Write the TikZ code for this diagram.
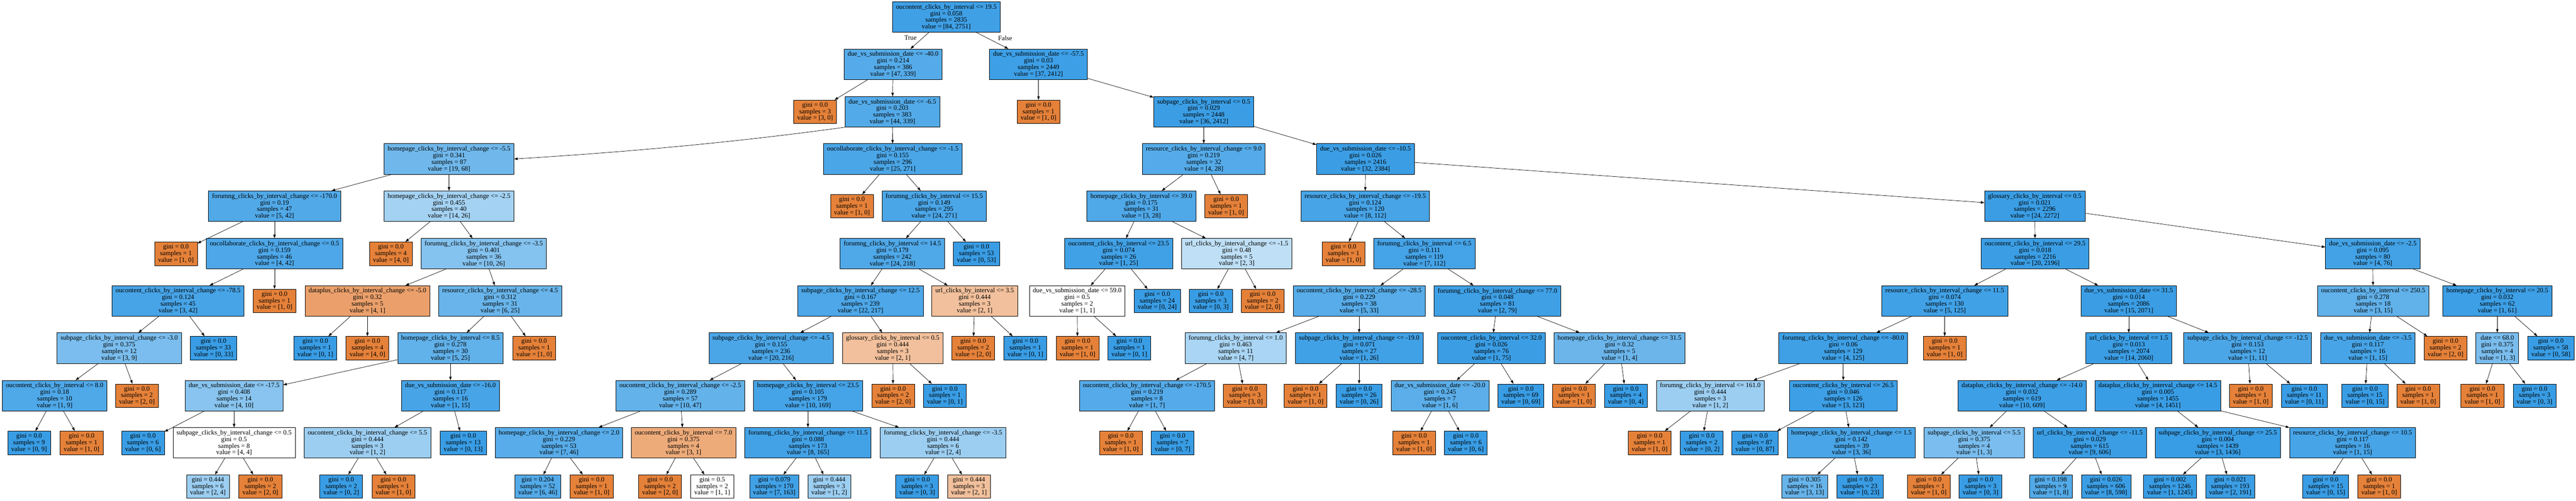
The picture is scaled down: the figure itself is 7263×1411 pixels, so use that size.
\documentclass[tikz,border=0pt]{standalone}
\usepackage{fontspec}
\setmainfont{Liberation Serif}
\usepackage{tikz}
\usetikzlibrary{calc,arrows.meta}

\definecolor{dtorange}{RGB}{229,129,57}
\definecolor{dtblue}{RGB}{57,157,229}

\tikzset{
  splitbox/.style={draw=black, line width=0.75pt, align=center, inner xsep=7.5pt, inner ysep=0pt,
    minimum height=64.5pt, font=\fontsize{14}{14}\selectfont},
  leafbox/.style={splitbox, minimum height=49.5pt},
  counts/.style 2 args={/utils/exec={%
      \pgfmathsetmacro\dtp{max(#1,#2)/(#1+#2)}%
      \pgfmathtruncatemacro\dta{round((2*\dtp-1)/\dtp*100)}%
      \ifnum#1>#2\relax\colorlet{dtfill}{dtorange!\dta!white}\else\colorlet{dtfill}{dtblue!\dta!white}\fi},
    fill=dtfill},
  treearrow/.style={line width=0.75pt, -{Triangle[length=7.5pt,width=5.25pt]}},
  branchlbl/.style={font=\fontsize{14}{14}\selectfont, inner sep=0pt},
}

\begin{document}
\begin{tikzpicture}[x=0.75pt,y=0.75pt,yscale=-1,xscale=1]
\useasboundingbox (0,0) rectangle (7263,1411);

% Level 0 and 1
\node[splitbox, counts={84}{2751}] (n0) at (2668,48) {oucontent\_clicks\_by\_interval <= 19.5\\gini = 0.058\\samples = 2835\\value = [84, 2751]};
\node[splitbox, counts={47}{339}] (n1) at (2518,181) {due\_vs\_submission\_date <= -40.0\\gini = 0.214\\samples = 386\\value = [47, 339]};
\node[splitbox, counts={37}{2412}] (n62) at (2928,181) {due\_vs\_submission\_date <= -57.5\\gini = 0.03\\samples = 2449\\value = [37, 2412]};
\node[branchlbl] (ltrue) at (2567,107) {True};
\node[branchlbl] (lfalse) at (2834,107) {False};

% Level 2
\node[leafbox, counts={3}{0}] (n2) at (2298,315) {gini = 0.0\\samples = 3\\value = [3, 0]};
\node[splitbox, counts={44}{339}] (n3) at (2516,315) {due\_vs\_submission\_date <= -6.5\\gini = 0.203\\samples = 383\\value = [44, 339]};
\node[leafbox, counts={1}{0}] (n63) at (2928,315) {gini = 0.0\\samples = 1\\value = [1, 0]};
\node[splitbox, counts={36}{2412}] (n64) at (3394,315) {subpage\_clicks\_by\_interval <= 0.5\\gini = 0.029\\samples = 2448\\value = [36, 2412]};

% Level 3
\node[splitbox, counts={19}{68}] (n4) at (1266,448) {homepage\_clicks\_by\_interval\_change <= -5.5\\gini = 0.341\\samples = 87\\value = [19, 68]};
\node[splitbox, counts={25}{271}] (n35) at (2517,448) {oucollaborate\_clicks\_by\_interval\_change <= -1.5\\gini = 0.155\\samples = 296\\value = [25, 271]};
\node[splitbox, counts={4}{28}] (n65) at (3394,448) {resource\_clicks\_by\_interval\_change <= 9.0\\gini = 0.219\\samples = 32\\value = [4, 28]};
\node[splitbox, counts={32}{2384}] (n76) at (3850,448) {due\_vs\_submission\_date <= -10.5\\gini = 0.026\\samples = 2416\\value = [32, 2384]};

% Level 4
\node[splitbox, counts={5}{42}] (n5) at (774,581) {forumng\_clicks\_by\_interval\_change <= -170.0\\gini = 0.19\\samples = 47\\value = [5, 42]};
\node[splitbox, counts={14}{26}] (n16) at (1266,581) {homepage\_clicks\_by\_interval\_change <= -2.5\\gini = 0.455\\samples = 40\\value = [14, 26]};
\node[leafbox, counts={1}{0}] (n36) at (2402,581) {gini = 0.0\\samples = 1\\value = [1, 0]};
\node[splitbox, counts={24}{271}] (n37) at (2634,581) {forumng\_clicks\_by\_interval <= 15.5\\gini = 0.149\\samples = 295\\value = [24, 271]};
\node[splitbox, counts={3}{28}] (n66) at (3218,581) {homepage\_clicks\_by\_interval <= 39.0\\gini = 0.175\\samples = 31\\value = [3, 28]};
\node[leafbox, counts={1}{0}] (n75) at (3457,581) {gini = 0.0\\samples = 1\\value = [1, 0]};
\node[splitbox, counts={8}{112}] (n77) at (3849,581) {resource\_clicks\_by\_interval\_change <= -19.5\\gini = 0.124\\samples = 120\\value = [8, 112]};
\node[splitbox, counts={24}{2272}] (n98) at (5737,581) {glossary\_clicks\_by\_interval <= 0.5\\gini = 0.021\\samples = 2296\\value = [24, 2272]};

% Level 5
\node[leafbox, counts={1}{0}] (n6) at (496,715) {gini = 0.0\\samples = 1\\value = [1, 0]};
\node[splitbox, counts={4}{42}] (n7) at (774,715) {oucollaborate\_clicks\_by\_interval\_change <= 0.5\\gini = 0.159\\samples = 46\\value = [4, 42]};
\node[leafbox, counts={4}{0}] (n17) at (1102,715) {gini = 0.0\\samples = 4\\value = [4, 0]};
\node[splitbox, counts={10}{26}] (n18) at (1364,715) {forumng\_clicks\_by\_interval\_change <= -3.5\\gini = 0.401\\samples = 36\\value = [10, 26]};
\node[splitbox, counts={24}{218}] (n38) at (2516,715) {forumng\_clicks\_by\_interval <= 14.5\\gini = 0.179\\samples = 242\\value = [24, 218]};
\node[leafbox, counts={0}{53}] (n61) at (2753,715) {gini = 0.0\\samples = 53\\value = [0, 53]};
\node[splitbox, counts={1}{25}] (n67) at (3154,715) {oucontent\_clicks\_by\_interval <= 23.5\\gini = 0.074\\samples = 26\\value = [1, 25]};
\node[splitbox, counts={2}{3}] (n72) at (3487,715) {url\_clicks\_by\_interval\_change <= -1.5\\gini = 0.48\\samples = 5\\value = [2, 3]};
\node[leafbox, counts={1}{0}] (n78) at (3788,715) {gini = 0.0\\samples = 1\\value = [1, 0]};
\node[splitbox, counts={7}{112}] (n79) at (4016,715) {forumng\_clicks\_by\_interval <= 6.5\\gini = 0.111\\samples = 119\\value = [7, 112]};
\node[splitbox, counts={20}{2196}] (n99) at (5738,715) {oucontent\_clicks\_by\_interval <= 29.5\\gini = 0.018\\samples = 2216\\value = [20, 2196]};
\node[splitbox, counts={4}{76}] (n130) at (6690,715) {due\_vs\_submission\_date <= -2.5\\gini = 0.095\\samples = 80\\value = [4, 76]};

% Level 6
\node[splitbox, counts={3}{42}] (n8) at (502,848) {oucontent\_clicks\_by\_interval\_change <= -78.5\\gini = 0.124\\samples = 45\\value = [3, 42]};
\node[leafbox, counts={1}{0}] (n15) at (774,848) {gini = 0.0\\samples = 1\\value = [1, 0]};
\node[splitbox, counts={4}{1}] (n19) at (1036,848) {dataplus\_clicks\_by\_interval\_change <= -5.0\\gini = 0.32\\samples = 5\\value = [4, 1]};
\node[splitbox, counts={6}{25}] (n22) at (1410,848) {resource\_clicks\_by\_interval\_change <= 4.5\\gini = 0.312\\samples = 31\\value = [6, 25]};
\node[splitbox, counts={22}{217}] (n39) at (2426,848) {subpage\_clicks\_by\_interval\_change <= 12.5\\gini = 0.167\\samples = 239\\value = [22, 217]};
\node[splitbox, counts={2}{1}] (n58) at (2748,848) {url\_clicks\_by\_interval <= 3.5\\gini = 0.444\\samples = 3\\value = [2, 1]};
\node[splitbox, counts={1}{1}] (n68) at (3037,848) {due\_vs\_submission\_date <= 59.0\\gini = 0.5\\samples = 2\\value = [1, 1]};
\node[leafbox, counts={0}{24}] (n71) at (3263,848) {gini = 0.0\\samples = 24\\value = [0, 24]};
\node[leafbox, counts={0}{3}] (n73) at (3414,848) {gini = 0.0\\samples = 3\\value = [0, 3]};
\node[leafbox, counts={2}{0}] (n74) at (3560,848) {gini = 0.0\\samples = 2\\value = [2, 0]};
\node[splitbox, counts={5}{33}] (n80) at (3832,848) {oucontent\_clicks\_by\_interval\_change <= -28.5\\gini = 0.229\\samples = 38\\value = [5, 33]};
\node[splitbox, counts={2}{79}] (n89) at (4222,848) {forumng\_clicks\_by\_interval\_change <= 77.0\\gini = 0.048\\samples = 81\\value = [2, 79]};
\node[splitbox, counts={5}{125}] (n100) at (5483,848) {resource\_clicks\_by\_interval\_change <= 11.5\\gini = 0.074\\samples = 130\\value = [5, 125]};
\node[splitbox, counts={15}{2071}] (n111) at (6002,848) {due\_vs\_submission\_date <= 31.5\\gini = 0.014\\samples = 2086\\value = [15, 2071]};
\node[splitbox, counts={3}{15}] (n131) at (6691,848) {oucontent\_clicks\_by\_interval <= 250.5\\gini = 0.278\\samples = 18\\value = [3, 15]};
\node[splitbox, counts={1}{61}] (n136) at (7041,848) {homepage\_clicks\_by\_interval <= 20.5\\gini = 0.032\\samples = 62\\value = [1, 61]};

% Level 7
\node[splitbox, counts={3}{9}] (n9) at (336,981) {subpage\_clicks\_by\_interval\_change <= -3.0\\gini = 0.375\\samples = 12\\value = [3, 9]};
\node[leafbox, counts={0}{33}] (n14) at (602,981) {gini = 0.0\\samples = 33\\value = [0, 33]};
\node[leafbox, counts={0}{1}] (n20) at (889,981) {gini = 0.0\\samples = 1\\value = [0, 1]};
\node[leafbox, counts={4}{0}] (n21) at (1036,981) {gini = 0.0\\samples = 4\\value = [4, 0]};
\node[splitbox, counts={5}{25}] (n23) at (1270,981) {homepage\_clicks\_by\_interval <= 8.5\\gini = 0.278\\samples = 30\\value = [5, 25]};
\node[leafbox, counts={1}{0}] (n34) at (1506,981) {gini = 0.0\\samples = 1\\value = [1, 0]};
\node[splitbox, counts={20}{216}] (n40) at (2174,981) {subpage\_clicks\_by\_interval\_change <= -4.5\\gini = 0.155\\samples = 236\\value = [20, 216]};
\node[splitbox, counts={2}{1}] (n55) at (2517,981) {glossary\_clicks\_by\_interval <= 0.5\\gini = 0.444\\samples = 3\\value = [2, 1]};
\node[leafbox, counts={2}{0}] (n59) at (2744,981) {gini = 0.0\\samples = 2\\value = [2, 0]};
\node[leafbox, counts={0}{1}] (n60) at (2891,981) {gini = 0.0\\samples = 1\\value = [0, 1]};
\node[leafbox, counts={1}{0}] (n69) at (3038,981) {gini = 0.0\\samples = 1\\value = [1, 0]};
\node[leafbox, counts={0}{1}] (n70) at (3184,981) {gini = 0.0\\samples = 1\\value = [0, 1]};
\node[splitbox, counts={4}{7}] (n81) at (3484,981) {forumng\_clicks\_by\_interval <= 1.0\\gini = 0.463\\samples = 11\\value = [4, 7]};
\node[splitbox, counts={1}{26}] (n86) at (3832,981) {subpage\_clicks\_by\_interval\_change <= -19.0\\gini = 0.071\\samples = 27\\value = [1, 26]};
\node[splitbox, counts={1}{75}] (n90) at (4205,981) {oucontent\_clicks\_by\_interval <= 32.0\\gini = 0.026\\samples = 76\\value = [1, 75]};
\node[splitbox, counts={1}{4}] (n95) at (4566,981) {homepage\_clicks\_by\_interval\_change <= 31.5\\gini = 0.32\\samples = 5\\value = [1, 4]};
\node[splitbox, counts={4}{125}] (n101) at (5197,981) {forumng\_clicks\_by\_interval\_change <= -80.0\\gini = 0.06\\samples = 129\\value = [4, 125]};
\node[leafbox, counts={1}{0}] (n110) at (5483,981) {gini = 0.0\\samples = 1\\value = [1, 0]};
\node[splitbox, counts={14}{2060}] (n112) at (6002,981) {url\_clicks\_by\_interval <= 1.5\\gini = 0.013\\samples = 2074\\value = [14, 2060]};
\node[splitbox, counts={1}{11}] (n127) at (6337,981) {subpage\_clicks\_by\_interval\_change <= -12.5\\gini = 0.153\\samples = 12\\value = [1, 11]};
\node[splitbox, counts={1}{15}] (n132) at (6676,981) {due\_vs\_submission\_date <= -3.5\\gini = 0.117\\samples = 16\\value = [1, 15]};
\node[leafbox, counts={2}{0}] (n135) at (6895,981) {gini = 0.0\\samples = 2\\value = [2, 0]};
\node[splitbox, counts={1}{3}] (n137) at (7041,981) {date <= 68.0\\gini = 0.375\\samples = 4\\value = [1, 3]};
\node[leafbox, counts={0}{58}] (n140) at (7192,981) {gini = 0.0\\samples = 58\\value = [0, 58]};

% Level 8
\node[splitbox, counts={1}{9}] (n10) at (154,1115) {oucontent\_clicks\_by\_interval <= 8.0\\gini = 0.18\\samples = 10\\value = [1, 9]};
\node[leafbox, counts={2}{0}] (n13) at (386,1115) {gini = 0.0\\samples = 2\\value = [2, 0]};
\node[splitbox, counts={4}{10}] (n24) at (660,1115) {due\_vs\_submission\_date <= -17.5\\gini = 0.408\\samples = 14\\value = [4, 10]};
\node[splitbox, counts={1}{15}] (n29) at (1270,1115) {due\_vs\_submission\_date <= -16.0\\gini = 0.117\\samples = 16\\value = [1, 15]};
\node[splitbox, counts={10}{47}] (n41) at (1918,1115) {oucontent\_clicks\_by\_interval\_change <= -2.5\\gini = 0.289\\samples = 57\\value = [10, 47]};
\node[splitbox, counts={10}{169}] (n48) at (2278,1115) {homepage\_clicks\_by\_interval <= 23.5\\gini = 0.105\\samples = 179\\value = [10, 169]};
\node[leafbox, counts={2}{0}] (n56) at (2518,1115) {gini = 0.0\\samples = 2\\value = [2, 0]};
\node[leafbox, counts={0}{1}] (n57) at (2664,1115) {gini = 0.0\\samples = 1\\value = [0, 1]};
\node[splitbox, counts={1}{7}] (n82) at (3234,1115) {oucontent\_clicks\_by\_interval\_change <= -170.5\\gini = 0.219\\samples = 8\\value = [1, 7]};
\node[leafbox, counts={3}{0}] (n85) at (3510,1115) {gini = 0.0\\samples = 3\\value = [3, 0]};
\node[leafbox, counts={1}{0}] (n87) at (3681,1115) {gini = 0.0\\samples = 1\\value = [1, 0]};
\node[leafbox, counts={0}{26}] (n88) at (3832,1115) {gini = 0.0\\samples = 26\\value = [0, 26]};
\node[splitbox, counts={1}{6}] (n91) at (4060,1115) {due\_vs\_submission\_date <= -20.0\\gini = 0.245\\samples = 7\\value = [1, 6]};
\node[leafbox, counts={0}{69}] (n94) at (4288,1115) {gini = 0.0\\samples = 69\\value = [0, 69]};
\node[leafbox, counts={1}{0}] (n96) at (4438,1115) {gini = 0.0\\samples = 1\\value = [1, 0]};
\node[leafbox, counts={0}{4}] (n97) at (4584,1115) {gini = 0.0\\samples = 4\\value = [0, 4]};
\node[splitbox, counts={1}{2}] (n102) at (4822,1115) {forumng\_clicks\_by\_interval <= 161.0\\gini = 0.444\\samples = 3\\value = [1, 2]};
\node[splitbox, counts={3}{123}] (n105) at (5197,1115) {oucontent\_clicks\_by\_interval <= 26.5\\gini = 0.046\\samples = 126\\value = [3, 123]};
\node[splitbox, counts={10}{609}] (n113) at (5701,1115) {dataplus\_clicks\_by\_interval\_change <= -14.0\\gini = 0.032\\samples = 619\\value = [10, 609]};
\node[splitbox, counts={4}{1451}] (n120) at (6084,1115) {dataplus\_clicks\_by\_interval\_change <= 14.5\\gini = 0.005\\samples = 1455\\value = [4, 1451]};
\node[leafbox, counts={1}{0}] (n128) at (6346,1115) {gini = 0.0\\samples = 1\\value = [1, 0]};
\node[leafbox, counts={0}{11}] (n129) at (6497,1115) {gini = 0.0\\samples = 11\\value = [0, 11]};
\node[leafbox, counts={0}{15}] (n133) at (6668,1115) {gini = 0.0\\samples = 15\\value = [0, 15]};
\node[leafbox, counts={1}{0}] (n134) at (6818,1115) {gini = 0.0\\samples = 1\\value = [1, 0]};
\node[leafbox, counts={1}{0}] (n138) at (6999,1115) {gini = 0.0\\samples = 1\\value = [1, 0]};
\node[leafbox, counts={0}{3}] (n139) at (7146,1115) {gini = 0.0\\samples = 3\\value = [0, 3]};

% Level 9
\node[leafbox, counts={0}{9}] (n11) at (82,1248) {gini = 0.0\\samples = 9\\value = [0, 9]};
\node[leafbox, counts={1}{0}] (n12) at (230,1248) {gini = 0.0\\samples = 1\\value = [1, 0]};
\node[leafbox, counts={0}{6}] (n25) at (403,1248) {gini = 0.0\\samples = 6\\value = [0, 6]};
\node[splitbox, counts={4}{4}] (n26) at (660,1248) {subpage\_clicks\_by\_interval\_change <= 0.5\\gini = 0.5\\samples = 8\\value = [4, 4]};
\node[splitbox, counts={1}{2}] (n30) at (1036,1248) {oucontent\_clicks\_by\_interval\_change <= 5.5\\gini = 0.444\\samples = 3\\value = [1, 2]};
\node[leafbox, counts={0}{13}] (n33) at (1306,1248) {gini = 0.0\\samples = 13\\value = [0, 13]};
\node[splitbox, counts={7}{46}] (n42) at (1576,1248) {homepage\_clicks\_by\_interval\_change <= 2.0\\gini = 0.229\\samples = 53\\value = [7, 46]};
\node[splitbox, counts={3}{1}] (n45) at (1927,1248) {oucontent\_clicks\_by\_interval <= 7.0\\gini = 0.375\\samples = 4\\value = [3, 1]};
\node[splitbox, counts={8}{165}] (n49) at (2278,1248) {forumng\_clicks\_by\_interval\_change <= 11.5\\gini = 0.088\\samples = 173\\value = [8, 165]};
\node[splitbox, counts={2}{4}] (n52) at (2659,1248) {forumng\_clicks\_by\_interval\_change <= -3.5\\gini = 0.444\\samples = 6\\value = [2, 4]};
\node[leafbox, counts={1}{0}] (n83) at (3160,1248) {gini = 0.0\\samples = 1\\value = [1, 0]};
\node[leafbox, counts={0}{7}] (n84) at (3306,1248) {gini = 0.0\\samples = 7\\value = [0, 7]};
\node[leafbox, counts={1}{0}] (n92) at (3987,1248) {gini = 0.0\\samples = 1\\value = [1, 0]};
\node[leafbox, counts={0}{6}] (n93) at (4133,1248) {gini = 0.0\\samples = 6\\value = [0, 6]};
\node[leafbox, counts={1}{0}] (n103) at (4651,1248) {gini = 0.0\\samples = 1\\value = [1, 0]};
\node[leafbox, counts={0}{2}] (n104) at (4798,1248) {gini = 0.0\\samples = 2\\value = [0, 2]};
\node[leafbox, counts={0}{87}] (n106) at (4948,1248) {gini = 0.0\\samples = 87\\value = [0, 87]};
\node[splitbox, counts={3}{36}] (n107) at (5220,1248) {homepage\_clicks\_by\_interval\_change <= 1.5\\gini = 0.142\\samples = 39\\value = [3, 36]};
\node[splitbox, counts={1}{3}] (n114) at (5566,1248) {subpage\_clicks\_by\_interval <= 5.5\\gini = 0.375\\samples = 4\\value = [1, 3]};
\node[splitbox, counts={9}{606}] (n117) at (5892,1248) {url\_clicks\_by\_interval\_change <= -11.5\\gini = 0.029\\samples = 615\\value = [9, 606]};
\node[splitbox, counts={3}{1436}] (n121) at (6253,1248) {subpage\_clicks\_by\_interval\_change <= 25.5\\gini = 0.004\\samples = 1439\\value = [3, 1436]};
\node[splitbox, counts={1}{15}] (n124) at (6633,1248) {resource\_clicks\_by\_interval\_change <= 10.5\\gini = 0.117\\samples = 16\\value = [1, 15]};

% Level 10
\node[leafbox, counts={2}{4}] (n27) at (586,1371) {gini = 0.444\\samples = 6\\value = [2, 4]};
\node[leafbox, counts={2}{0}] (n28) at (734,1371) {gini = 0.0\\samples = 2\\value = [2, 0]};
\node[leafbox, counts={0}{2}] (n31) at (962,1371) {gini = 0.0\\samples = 2\\value = [0, 2]};
\node[leafbox, counts={1}{0}] (n32) at (1109,1371) {gini = 0.0\\samples = 1\\value = [1, 0]};
\node[leafbox, counts={6}{46}] (n43) at (1516,1371) {gini = 0.204\\samples = 52\\value = [6, 46]};
\node[leafbox, counts={1}{0}] (n44) at (1668,1371) {gini = 0.0\\samples = 1\\value = [1, 0]};
\node[leafbox, counts={2}{0}] (n46) at (1861,1371) {gini = 0.0\\samples = 2\\value = [2, 0]};
\node[leafbox, counts={1}{1}] (n47) at (2008,1371) {gini = 0.5\\samples = 2\\value = [1, 1]};
\node[leafbox, counts={7}{163}] (n50) at (2183,1371) {gini = 0.079\\samples = 170\\value = [7, 163]};
\node[leafbox, counts={1}{2}] (n51) at (2338,1371) {gini = 0.444\\samples = 3\\value = [1, 2]};
\node[leafbox, counts={0}{3}] (n53) at (2586,1371) {gini = 0.0\\samples = 3\\value = [0, 3]};
\node[leafbox, counts={2}{1}] (n54) at (2732,1371) {gini = 0.444\\samples = 3\\value = [2, 1]};
\node[leafbox, counts={3}{13}] (n108) at (5088,1371) {gini = 0.305\\samples = 16\\value = [3, 13]};
\node[leafbox, counts={0}{23}] (n109) at (5244,1371) {gini = 0.0\\samples = 23\\value = [0, 23]};
\node[leafbox, counts={1}{0}] (n115) at (5438,1371) {gini = 0.0\\samples = 1\\value = [1, 0]};
\node[leafbox, counts={0}{3}] (n116) at (5584,1371) {gini = 0.0\\samples = 3\\value = [0, 3]};
\node[leafbox, counts={1}{8}] (n118) at (5782,1371) {gini = 0.198\\samples = 9\\value = [1, 8]};
\node[leafbox, counts={8}{598}] (n119) at (5938,1371) {gini = 0.026\\samples = 606\\value = [8, 598]};
\node[leafbox, counts={1}{1245}] (n122) at (6118,1371) {gini = 0.002\\samples = 1246\\value = [1, 1245]};
\node[leafbox, counts={2}{191}] (n123) at (6288,1371) {gini = 0.021\\samples = 193\\value = [2, 191]};
\node[leafbox, counts={0}{15}] (n125) at (6557,1371) {gini = 0.0\\samples = 15\\value = [0, 15]};
\node[leafbox, counts={1}{0}] (n126) at (6708,1371) {gini = 0.0\\samples = 1\\value = [1, 0]};

% Connectors
\draw[treearrow] (n0) -- (n1); \draw[treearrow] (n0) -- (n62);
\draw[treearrow] (n1) -- (n2); \draw[treearrow] (n1) -- (n3);
\draw[treearrow] (n3.south west) .. controls ($(n3.south west)+(-311,43)$) and ($(n4.east)+(311,-19)$) .. (n4.east);
\draw[treearrow] (n3) -- (n35);
\draw[treearrow] (n4) -- (n5); \draw[treearrow] (n4) -- (n16);
\draw[treearrow] (n5) -- (n6); \draw[treearrow] (n5) -- (n7);
\draw[treearrow] (n7) -- (n8); \draw[treearrow] (n7) -- (n15);
\draw[treearrow] (n8) -- (n9); \draw[treearrow] (n8) -- (n14);
\draw[treearrow] (n9) -- (n10); \draw[treearrow] (n9) -- (n13);
\draw[treearrow] (n10) -- (n11); \draw[treearrow] (n10) -- (n12);
\draw[treearrow] (n16) -- (n17); \draw[treearrow] (n16) -- (n18);
\draw[treearrow] (n18) -- (n19); \draw[treearrow] (n18) -- (n22);
\draw[treearrow] (n19) -- (n20); \draw[treearrow] (n19) -- (n21);
\draw[treearrow] (n22) -- (n23); \draw[treearrow] (n22) -- (n34);
\draw[treearrow] (n23) -- (n24); \draw[treearrow] (n23) -- (n29);
\draw[treearrow] (n24) -- (n25); \draw[treearrow] (n24) -- (n26);
\draw[treearrow] (n26) -- (n27); \draw[treearrow] (n26) -- (n28);
\draw[treearrow] (n29) -- (n30); \draw[treearrow] (n29) -- (n33);
\draw[treearrow] (n30) -- (n31); \draw[treearrow] (n30) -- (n32);
\draw[treearrow] (n35) -- (n36); \draw[treearrow] (n35) -- (n37);
\draw[treearrow] (n37) -- (n38); \draw[treearrow] (n37) -- (n61);
\draw[treearrow] (n38) -- (n39); \draw[treearrow] (n38) -- (n58);
\draw[treearrow] (n39) -- (n40); \draw[treearrow] (n39) -- (n55);
\draw[treearrow] (n40) -- (n41); \draw[treearrow] (n40) -- (n48);
\draw[treearrow] (n41) -- (n42); \draw[treearrow] (n41) -- (n45);
\draw[treearrow] (n42) -- (n43); \draw[treearrow] (n42) -- (n44);
\draw[treearrow] (n45) -- (n46); \draw[treearrow] (n45) -- (n47);
\draw[treearrow] (n48) -- (n49); \draw[treearrow] (n48) -- (n52);
\draw[treearrow] (n49) -- (n50); \draw[treearrow] (n49) -- (n51);
\draw[treearrow] (n52) -- (n53); \draw[treearrow] (n52) -- (n54);
\draw[treearrow] (n55) -- (n56); \draw[treearrow] (n55) -- (n57);
\draw[treearrow] (n58) -- (n59); \draw[treearrow] (n58) -- (n60);
\draw[treearrow] (n62) -- (n63); \draw[treearrow] (n62) -- (n64);
\draw[treearrow] (n64) -- (n65); \draw[treearrow] (n64) -- (n76);
\draw[treearrow] (n65) -- (n66); \draw[treearrow] (n65) -- (n75);
\draw[treearrow] (n66) -- (n67); \draw[treearrow] (n66) -- (n72);
\draw[treearrow] (n67) -- (n68); \draw[treearrow] (n67) -- (n71);
\draw[treearrow] (n68) -- (n69); \draw[treearrow] (n68) -- (n70);
\draw[treearrow] (n72) -- (n73); \draw[treearrow] (n72) -- (n74);
\draw[treearrow] (n76) -- (n77); \draw[treearrow] (n76) -- (n98);
\draw[treearrow] (n77) -- (n78); \draw[treearrow] (n77) -- (n79);
\draw[treearrow] (n79) -- (n80); \draw[treearrow] (n79) -- (n89);
\draw[treearrow] (n80) -- (n81); \draw[treearrow] (n80) -- (n86);
\draw[treearrow] (n81) -- (n82); \draw[treearrow] (n81) -- (n85);
\draw[treearrow] (n82) -- (n83); \draw[treearrow] (n82) -- (n84);
\draw[treearrow] (n86) -- (n87); \draw[treearrow] (n86) -- (n88);
\draw[treearrow] (n89) -- (n90); \draw[treearrow] (n89) -- (n95);
\draw[treearrow] (n90) -- (n91); \draw[treearrow] (n90) -- (n94);
\draw[treearrow] (n91) -- (n92); \draw[treearrow] (n91) -- (n93);
\draw[treearrow] (n95) -- (n96); \draw[treearrow] (n95) -- (n97);
\draw[treearrow] (n98) -- (n99); \draw[treearrow] (n98) -- (n130);
\draw[treearrow] (n99) -- (n100); \draw[treearrow] (n99) -- (n111);
\draw[treearrow] (n100) -- (n101); \draw[treearrow] (n100) -- (n110);
\draw[treearrow] (n101) -- (n102); \draw[treearrow] (n101) -- (n105);
\draw[treearrow] (n102) -- (n103); \draw[treearrow] (n102) -- (n104);
\draw[treearrow] (n105) -- (n106); \draw[treearrow] (n105) -- (n107);
\draw[treearrow] (n107) -- (n108); \draw[treearrow] (n107) -- (n109);
\draw[treearrow] (n111) -- (n112); \draw[treearrow] (n111) -- (n127);
\draw[treearrow] (n112) -- (n113); \draw[treearrow] (n112) -- (n120);
\draw[treearrow] (n113) -- (n114); \draw[treearrow] (n113) -- (n117);
\draw[treearrow] (n114) -- (n115); \draw[treearrow] (n114) -- (n116);
\draw[treearrow] (n117) -- (n118); \draw[treearrow] (n117) -- (n119);
\draw[treearrow] (n120) -- (n121); \draw[treearrow] (n120) -- (n124);
\draw[treearrow] (n121) -- (n122); \draw[treearrow] (n121) -- (n123);
\draw[treearrow] (n124) -- (n125); \draw[treearrow] (n124) -- (n126);
\draw[treearrow] (n127) -- (n128); \draw[treearrow] (n127) -- (n129);
\draw[treearrow] (n130) -- (n131); \draw[treearrow] (n130) -- (n136);
\draw[treearrow] (n131) -- (n132); \draw[treearrow] (n131) -- (n135);
\draw[treearrow] (n132) -- (n133); \draw[treearrow] (n132) -- (n134);
\draw[treearrow] (n136) -- (n137); \draw[treearrow] (n136) -- (n140);
\draw[treearrow] (n137) -- (n138); \draw[treearrow] (n137) -- (n139);
\end{tikzpicture}
\end{document}
